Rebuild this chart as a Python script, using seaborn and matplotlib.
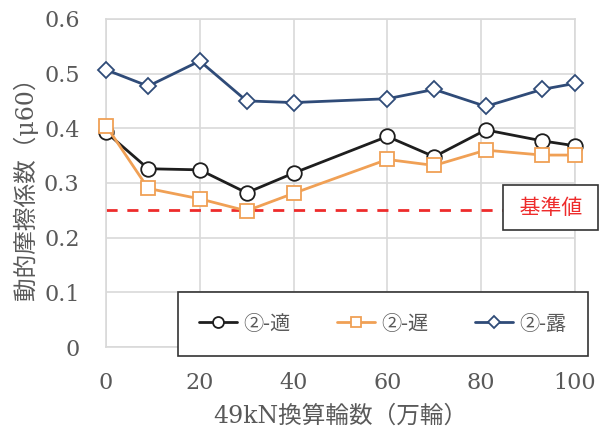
import matplotlib
matplotlib.use("Agg")
import matplotlib.pyplot as plt
import seaborn as sns
import pandas as pd

# Cumulative 49kN-equivalent wheel passes (10,000 wheels)
wheel_passes = [0, 9, 20, 30, 40, 60, 70, 81, 93, 100]

# Dynamic friction coefficient (μ60) for each section
mu_tekisei = [0.393, 0.326, 0.324, 0.282, 0.318, 0.385, 0.348, 0.397, 0.377, 0.368]
mu_chien = [0.405, 0.290, 0.271, 0.249, 0.281, 0.343, 0.332, 0.360, 0.351, 0.351]
mu_roshutsu = [0.507, 0.477, 0.523, 0.450, 0.447, 0.454, 0.471, 0.440, 0.471, 0.482]

series_names = ["②-適", "②-遅", "②-露"]
threshold = 0.25
threshold_label = "基準値"

x_ticks = [0, 20, 40, 60, 80, 100]
y_ticks = [0, 0.1, 0.2, 0.3, 0.4, 0.5, 0.6]

sns.set_theme(style="whitegrid")
plt.rcParams["font.family"] = ["DejaVu Serif", "Noto Sans CJK JP"]

fig = plt.figure(figsize=(6.09, 4.29), dpi=100)
ax = fig.add_axes([0.174, 0.191, 0.770, 0.765])

df = pd.DataFrame({"x": wheel_passes * 3,
                   "mu": mu_tekisei + mu_chien + mu_roshutsu,
                   "series": sum([[n] * len(wheel_passes) for n in series_names], [])})

colors = {"②-適": "#1e1e1e", "②-遅": "#f0a055", "②-露": "#2f4b78"}
markers = {"②-適": "o", "②-遅": "s", "②-露": "D"}
msizes = {"②-適": 10.5, "②-遅": 10.5, "②-露": 8}

for name in series_names:
    sub = df[df["series"] == name]
    sns.lineplot(data=sub, x="x", y="mu", ax=ax, color=colors[name],
                 marker=markers[name], markersize=msizes[name],
                 markerfacecolor="white", markeredgecolor=colors[name],
                 markeredgewidth=1.3, linewidth=2.0, label=name, zorder=3,
                 clip_on=False)

ax.axhline(threshold, color="#ee2b2b", linestyle=(0, (4, 3.5)), linewidth=2.0, zorder=2)

ax.set_xlim(0, 100)
ax.set_ylim(0, 0.6)
ax.set_xticks(x_ticks)
ax.set_yticks(y_ticks)
ax.set_yticklabels(["0" if v == 0 else f"{v:.1f}" for v in y_ticks])
ax.grid(True, color="#d9d9d9", linewidth=1.2)
for side, sp in ax.spines.items():
    sp.set_color("#d9d9d9")
    sp.set_linewidth(1.2)
ax.tick_params(axis="both", labelsize=16, colors="#595959", length=0)
ax.tick_params(axis="y", pad=19)
ax.tick_params(axis="x", pad=18)

ax.set_xlabel("49kN換算輪数（万輪）", fontsize=17, color="#595959", labelpad=8)
ax.set_ylabel("動的摩擦係数（μ60）", fontsize=17, color="#595959", labelpad=4)

# threshold annotation box
fig.text(0.904, 0.516, " " + threshold_label + " ", fontsize=15, color="#ee2b2b",
         family=["Noto Sans CJK JP"], ha="center", va="center",
         bbox=dict(boxstyle="square,pad=0.55", facecolor="white",
                   edgecolor="#333333", linewidth=1.2))

leg = ax.legend(loc="center", bbox_to_anchor=(0.292, 0.1725, 0.673, 0.1445),
                bbox_transform=fig.transFigure, mode="expand", borderaxespad=0,
                ncol=3, frameon=True, fancybox=False, handlelength=1.9,
                columnspacing=1.6, handletextpad=0.3, borderpad=1.05,
                markerscale=0.75,
                prop={"family": ["Noto Sans CJK JP"], "size": 14.5})
leg.get_frame().set_edgecolor("#333333")
leg.get_frame().set_linewidth(1.2)
leg.get_frame().set_alpha(1)
leg.set_zorder(10)
for t in leg.get_texts():
    t.set_color("#595959")

fig.savefig("out.png", dpi=100)
